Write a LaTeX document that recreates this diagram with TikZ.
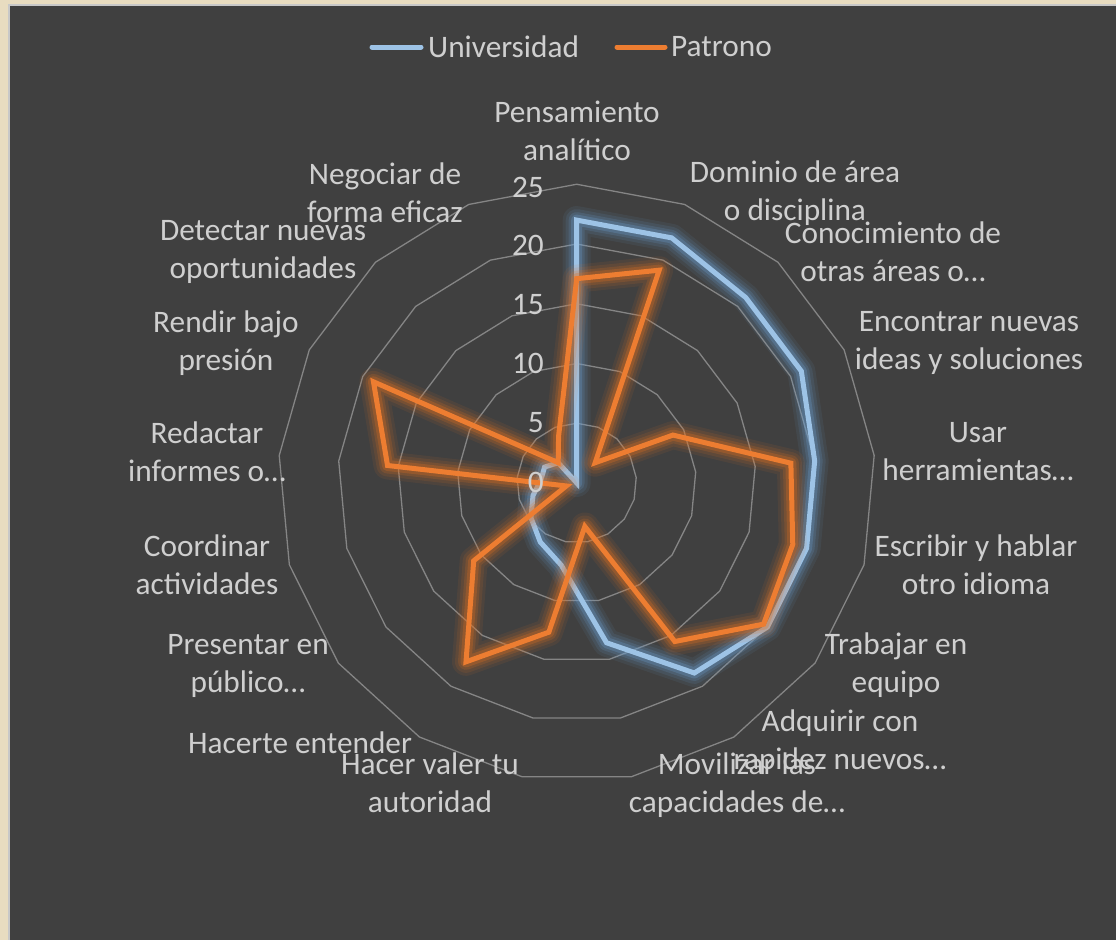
\documentclass[tikz,border=0pt]{standalone}
\usepackage{fontspec}
\setmainfont{Carlito}
\definecolor{bgdark}{HTML}{404040}
\definecolor{beige}{HTML}{E8DCC0}
\definecolor{framegray}{HTML}{C8C8C8}
\definecolor{txtgray}{HTML}{CFCFCF}
\definecolor{gridgray}{HTML}{858585}
\definecolor{uniblue}{HTML}{9DC3E6}
\definecolor{uniglow}{HTML}{6A9FD0}
\definecolor{patorange}{HTML}{ED7D31}
\definecolor{patglow}{HTML}{E07020}
\begin{document}
\begin{tikzpicture}[x=1pt,y=-1pt,
  lbl/.style={text=txtgray,font=\fontsize{31.3}{38}\selectfont,align=center,inner sep=0pt},
  axlbl/.style={text=txtgray,font=\fontsize{31.3}{38}\selectfont,inner sep=0pt,anchor=east},
  gridline/.style={draw=gridgray,line width=1.3pt},
  blueline/.style={draw=uniblue,line width=5pt,line join=miter},
  orangeline/.style={draw=patorange,line width=5pt,line join=miter},
  legline/.style={line width=5pt,line cap=round}]
\useasboundingbox (0,0) rectangle (1116,940);
% background
\fill[beige] (0,0) rectangle (1116,940);
\fill[framegray] (8,4) rectangle (1116,940);
\fill[bgdark] (10,6) rectangle (1116,940);
\def\cx{576.7}\def\cy{483}\def\sc{11.95}
% grid
\foreach \r in {5,10,15,20,25}{
  \draw[gridline] ({\cx},{\cy-\r*\sc}) \foreach \k in {1,...,16}{ -- ({\cx+\r*\sc*sin(\k*360/17)},{\cy-\r*\sc*cos(\k*360/17)}) } -- cycle;
}
% data points
\foreach \v [count=\k from 0] in {22,22,21,21,20,20,20,18.7,13.6,7,5.8,4.8,3.8,3,3,2.3,0}{
  \coordinate (b\k) at ({\cx+\v*\sc*sin(\k*360/17)},{\cy-\v*\sc*cos(\k*360/17)});
}
\foreach \v [count=\k from 0] in {17.1,19.1,2.3,9,18,18.8,19.6,15.6,3.7,12.7,17.6,10.8,0.9,15.9,19,2.3,4.2}{
  \coordinate (o\k) at ({\cx+\v*\sc*sin(\k*360/17)},{\cy-\v*\sc*cos(\k*360/17)});
}
% Universidad series with glow
\foreach \w/\o in {28/0.09,22/0.12,16/0.18,11/0.28}{
  \draw[draw=uniglow,line width=\w pt,opacity=\o,line join=round] (b0) \foreach \k in {1,...,16}{ -- (b\k) } -- cycle;
}
\draw[blueline] (b0) \foreach \k in {1,...,16}{ -- (b\k) } -- cycle;
% Patrono series with glow
\foreach \w/\o in {28/0.09,22/0.12,16/0.18,11/0.28}{
  \draw[draw=patglow,line width=\w pt,opacity=\o,line join=round] (o0) \foreach \k in {1,...,16}{ -- (o\k) } -- cycle;
}
\draw[orangeline] (o0) \foreach \k in {1,...,16}{ -- (o\k) } -- cycle;
% axis labels
\node[axlbl] (a25) at (544,187) {25};
\node[axlbl] (a20) at (544,245) {20};
\node[axlbl] (a15) at (544,305) {15};
\node[axlbl] (a10) at (544,363) {10};
\node[axlbl] (a5) at (544,423) {5};
\node[axlbl] (a0) at (544,482) {0};
% category labels
\node[lbl] (c0) at (577,131) {Pensamiento\\analítico};
\node[lbl] (c1) at (795,193) {Dominio de área\\o disciplina};
\node[lbl] (c2) at (893,252) {Conocimiento de\\otras áreas o…};
\node[lbl] (c3) at (969,343) {Encontrar nuevas\\ideas y soluciones};
\node[lbl] (c4) at (978,452) {Usar\\herramientas…};
\node[lbl] (c5) at (976,565) {Escribir y hablar\\otro idioma};
\node[lbl] (c6) at (896,665) {Trabajar en\\equipo};
\node[lbl] (c7) at (840,742) {Adquirir con\\rapidez nuevos…};
\node[lbl] (c8) at (737,785) {Movilizar las\\capacidades de…};
\node[lbl] (c9) at (430,783) {Hacer valer tu\\autoridad};
\node[lbl] (c10) at (300,743) {Hacerte entender};
\node[lbl] (c11) at (248,666) {Presentar en\\público…};
\node[lbl] (c12) at (207,565) {Coordinar\\actividades};
\node[lbl] (c13) at (207,452) {Redactar\\informes o…};
\node[lbl] (c14) at (226,343) {Rendir bajo\\presión};
\node[lbl] (c15) at (263,252) {Detectar nuevas\\oportunidades};
\node[lbl] (c16) at (385,193) {Negociar de\\forma eficaz};
% legend
\coordinate (lu1) at (372,47); \coordinate (lu2) at (421,47);
\draw[legline,draw=uniblue] (lu1) -- (lu2);
\node[lbl,anchor=west] (legu) at (428,47) {Universidad};
\coordinate (lp1) at (617,47); \coordinate (lp2) at (665,47);
\draw[legline,draw=patorange] (lp1) -- (lp2);
\node[lbl,anchor=west] (legp) at (671,47) {Patrono};
\end{tikzpicture}
\end{document}
